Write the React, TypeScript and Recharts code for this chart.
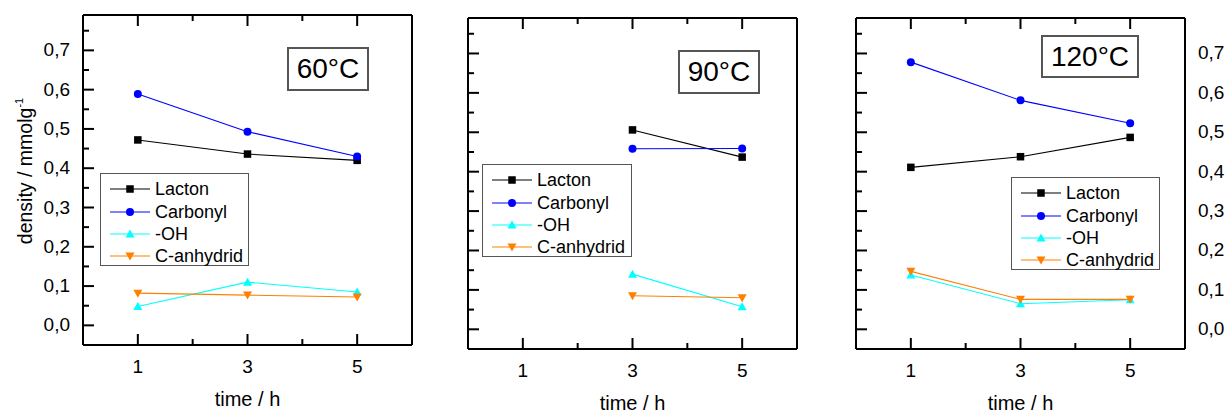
import React from 'react';
import { LineChart, Line, XAxis, YAxis, Legend } from 'recharts';

// ---------- data ----------
const times60 = [1, 3, 5];
const lacton60 = [0.472, 0.436, 0.42];
const carbonyl60 = [0.589, 0.493, 0.43];
const oh60 = [0.048, 0.11, 0.085];
const anhydrid60 = [0.082, 0.077, 0.072];

const times90 = [3, 5];
const lacton90 = [0.506, 0.437];
const carbonyl90 = [0.458, 0.459];
const oh90 = [0.14, 0.057];
const anhydrid90 = [0.085, 0.08];

const times120 = [1, 3, 5];
const lacton120 = [0.411, 0.438, 0.487];
const carbonyl120 = [0.678, 0.581, 0.523];
const oh120 = [0.138, 0.065, 0.075];
const anhydrid120 = [0.147, 0.076, 0.076];

const seriesNames = ['Lacton', 'Carbonyl', '-OH', 'C-anhydrid'];
const panelTitles = ['60°C', '90°C', '120°C'];
const xTicks = [1, 2, 3, 4, 5];
const xLabelTicks = [1, 3, 5];
const yTicks = [0, 0.05, 0.1, 0.15, 0.2, 0.25, 0.3, 0.35, 0.4, 0.45, 0.5, 0.55, 0.6, 0.65, 0.7, 0.75];
const yLabelTicks = [0, 0.1, 0.2, 0.3, 0.4, 0.5, 0.6, 0.7];
const xDomain = [0, 6];
const yDomain = [-0.05, 0.79];

const buildRows = (t: number[], a: number[], b: number[], c: number[], d: number[]) =>
  t.map((time, i) => ({ time, lacton: a[i], carbonyl: b[i], oh: c[i], anhydrid: d[i] }));

const panelData = [
  buildRows(times60, lacton60, carbonyl60, oh60, anhydrid60),
  buildRows(times90, lacton90, carbonyl90, oh90, anhydrid90),
  buildRows(times120, lacton120, carbonyl120, oh120, anhydrid120),
];

// ---------- styles / layout ----------
const W = 1228;
const H = 414;
const FONT = '"Liberation Sans", Arial, sans-serif';
const YW = 40; // y axis band width
const XB = 40; // bottom axis band height
const XT = 10; // top axis band height

const seriesStyle = [
  { key: 'lacton', color: '#000000', shape: 'square' },
  { key: 'carbonyl', color: '#0000ff', shape: 'circle' },
  { key: 'oh', color: '#00ffff', shape: 'up' },
  { key: 'anhydrid', color: '#ff8000', shape: 'down' },
];

const panels = [
  { left: 83, right: 412, top: 15, bottom: 345, leftLabels: true, rightLabels: false,
    legend: { x: 100, y: 173, w: 149, h: 93 }, title: { x: 287, y: 47, w: 82, h: 44 } },
  { left: 468, right: 797, top: 18, bottom: 349, leftLabels: false, rightLabels: false,
    legend: { x: 482, y: 164, w: 150, h: 93 }, title: { x: 678, y: 50, w: 82, h: 44 } },
  { left: 856, right: 1185, top: 18, bottom: 349, leftLabels: false, rightLabels: true,
    legend: { x: 1011, y: 177, w: 149, h: 93 }, title: { x: 1041, y: 35, w: 98, h: 43 } },
];

const fmt = (v: number) => v.toFixed(1).replace('.', ',');

const drawShape = (shape: string, color: string, cx: number, cy: number, k?: any) => {
  if (shape === 'square')
    return <rect key={k} x={cx - 3.75} y={cy - 3.75} width={7.5} height={7.5} fill={color} />;
  if (shape === 'circle') return <circle key={k} cx={cx} cy={cy} r={4} fill={color} />;
  if (shape === 'up')
    return (
      <polygon key={k} points={`${cx},${cy - 4.5} ${cx + 4.5},${cy + 3.5} ${cx - 4.5},${cy + 3.5}`} fill={color} />
    );
  return (
    <polygon key={k} points={`${cx - 4.5},${cy - 3.5} ${cx + 4.5},${cy - 3.5} ${cx},${cy + 4.5}`} fill={color} />
  );
};

const makeDot = (shape: string, color: string) => (p: any) => {
  if (p.cx == null || p.cy == null) return <g key={p.index} />;
  return drawShape(shape, color, p.cx, p.cy, p.index);
};

const isMajorY = (v: number) => Math.round(v * 100) % 10 === 0;
const hasLabel = (v: number) => yLabelTicks.some((t) => Math.abs(t - v) < 1e-6);

const tickText = (x: number, y: number, anchor: string, v: number) => (
  <text x={x} y={y + 6} textAnchor={anchor} fontFamily={FONT} fontSize={19} fill="#000">
    {fmt(v)}
  </text>
);

// left axis tick: inward tick mark, optional label at the left, optional label mirrored at the right frame
const makeLeftTick = (showLeft: boolean, showRight: boolean, plotWidth: number) => (props: any) => {
  const { x, y, payload } = props;
  const v = payload.value;
  const major = isMajorY(v);
  const len = major ? 11 : 6;
  const lab = major && hasLabel(v);
  return (
    <g>
      <line x1={x} x2={x + len} y1={y} y2={y} stroke="#000" strokeWidth={2} />
      {showLeft && lab && tickText(x - 13, y, 'end', v)}
      {showRight && lab && tickText(x + plotWidth + 13, y, 'start', v)}
    </g>
  );
};

const rightTick = (props: any) => {
  const { x, y, payload } = props;
  const v = payload.value;
  const len = isMajorY(v) ? 11 : 6;
  return <line x1={x} x2={x - len} y1={y} y2={y} stroke="#000" strokeWidth={2} />;
};

const makeXTick = (side: 'bottom' | 'top') => (props: any) => {
  const { x, y, payload } = props;
  const v = payload.value;
  const major = xLabelTicks.includes(v);
  const len = major ? 11 : 6;
  const dir = side === 'bottom' ? -1 : 1;
  return (
    <g>
      <line x1={x} x2={x} y1={y} y2={y + dir * len} stroke="#000" strokeWidth={2} />
      {side === 'bottom' && major && (
        <text x={x} y={y + 28} textAnchor="middle" fontFamily={FONT} fontSize={19} fill="#000">
          {String(v)}
        </text>
      )}
    </g>
  );
};

const LegendBox = () => (
  <div
    style={{
      boxSizing: 'border-box',
      width: '100%',
      height: '100%',
      border: '1.5px solid #555',
      background: '#fff',
      paddingTop: 4,
      fontFamily: FONT,
    }}
  >
    {seriesStyle.map((s, i) => (
      <div key={s.key} style={{ height: 22.4, display: 'flex', alignItems: 'center' }}>
        <svg width={54} height={22} style={{ display: 'block', flex: 'none' }}>
          <line x1={9} x2={49} y1={11} y2={11} stroke={s.color} strokeWidth={1.2} />
          {drawShape(s.shape, s.color, 29, 11)}
        </svg>
        <span style={{ fontSize: 18, color: '#000', lineHeight: '22px', whiteSpace: 'nowrap' }}>
          {seriesNames[i]}
        </span>
      </div>
    ))}
  </div>
);

const Panel = ({ idx }: { idx: number }) => {
  const p = panels[idx];
  const margin = {
    left: p.left - YW,
    right: W - p.right - YW,
    top: p.top - XT,
    bottom: H - p.bottom - XB,
  };
  const cx = (p.left + p.right) / 2;
  return (
    <div style={{ position: 'absolute', left: 0, top: 0, width: W, height: H }}>
      <LineChart width={W} height={H} data={panelData[idx]} margin={margin}>
        <XAxis
          xAxisId="b"
          dataKey="time"
          type="number"
          domain={xDomain}
          ticks={xTicks}
          interval={0}
          height={XB}
          tickSize={0}
          tickMargin={0}
          tickLine={false}
          axisLine={{ stroke: '#000', strokeWidth: 2 }}
          tick={makeXTick('bottom')}
          label={{
            content: () => (
              <text x={cx} y={p.bottom + 61} textAnchor="middle" fontFamily={FONT} fontSize={20} fill="#000">
                time / h
              </text>
            ),
          }}
        />
        <XAxis
          xAxisId="t"
          orientation="top"
          dataKey="time"
          type="number"
          domain={xDomain}
          ticks={xTicks}
          interval={0}
          height={XT}
          tickSize={0}
          tickMargin={0}
          tickLine={false}
          axisLine={{ stroke: '#000', strokeWidth: 2 }}
          tick={makeXTick('top')}
        />
        <YAxis
          yAxisId="l"
          type="number"
          domain={yDomain}
          ticks={yTicks}
          interval={0}
          width={YW}
          tickSize={0}
          tickMargin={0}
          tickLine={false}
          axisLine={{ stroke: '#000', strokeWidth: 2 }}
          tick={makeLeftTick(p.leftLabels, p.rightLabels, p.right - p.left)}
          label={
            idx === 0
              ? {
                  content: () => (
                    <text
                      x={32}
                      y={171}
                      transform="rotate(-90, 32, 171)"
                      textAnchor="middle"
                      fontFamily={FONT}
                      fontSize={19.5}
                      fill="#000"
                    >
                      density / mmolg
                      <tspan fontSize={11} dy={-9}>
                        -1
                      </tspan>
                    </text>
                  ),
                }
              : undefined
          }
        />
        <YAxis
          yAxisId="r"
          orientation="right"
          type="number"
          domain={yDomain}
          ticks={yTicks}
          interval={0}
          width={YW}
          tickSize={0}
          tickMargin={0}
          tickLine={false}
          axisLine={{ stroke: '#000', strokeWidth: 2 }}
          tick={rightTick}
        />
        {seriesStyle.map((s, i) => (
          <Line
            key={s.key}
            xAxisId="b"
            yAxisId="l"
            type="linear"
            dataKey={s.key}
            name={seriesNames[i]}
            stroke={s.color}
            strokeWidth={1.1}
            dot={makeDot(s.shape, s.color)}
            activeDot={false}
            isAnimationActive={false}
          />
        ))}
        <Legend
          layout="horizontal"
          verticalAlign="middle"
          align="center"
          content={() => <LegendBox />}
          wrapperStyle={{
            position: 'absolute',
            left: p.legend.x,
            top: p.legend.y,
            width: p.legend.w,
            height: p.legend.h,
          }}
        />
      </LineChart>
      <div
        style={{
          position: 'absolute',
          left: p.title.x,
          top: p.title.y,
          width: p.title.w,
          height: p.title.h,
          boxSizing: 'border-box',
          border: '2px solid #555',
          background: '#fff',
          display: 'flex',
          alignItems: 'center',
          justifyContent: 'center',
          fontFamily: FONT,
          fontSize: 28,
          color: '#000',
        }}
      >
        {panelTitles[idx]}
      </div>
    </div>
  );
};

export default function App() {
  return (
    <div style={{ position: 'absolute', left: 0, top: 0, width: W, height: H, background: '#fff', overflow: 'hidden' }}>
      <Panel idx={0} />
      <Panel idx={1} />
      <Panel idx={2} />
    </div>
  );
}
